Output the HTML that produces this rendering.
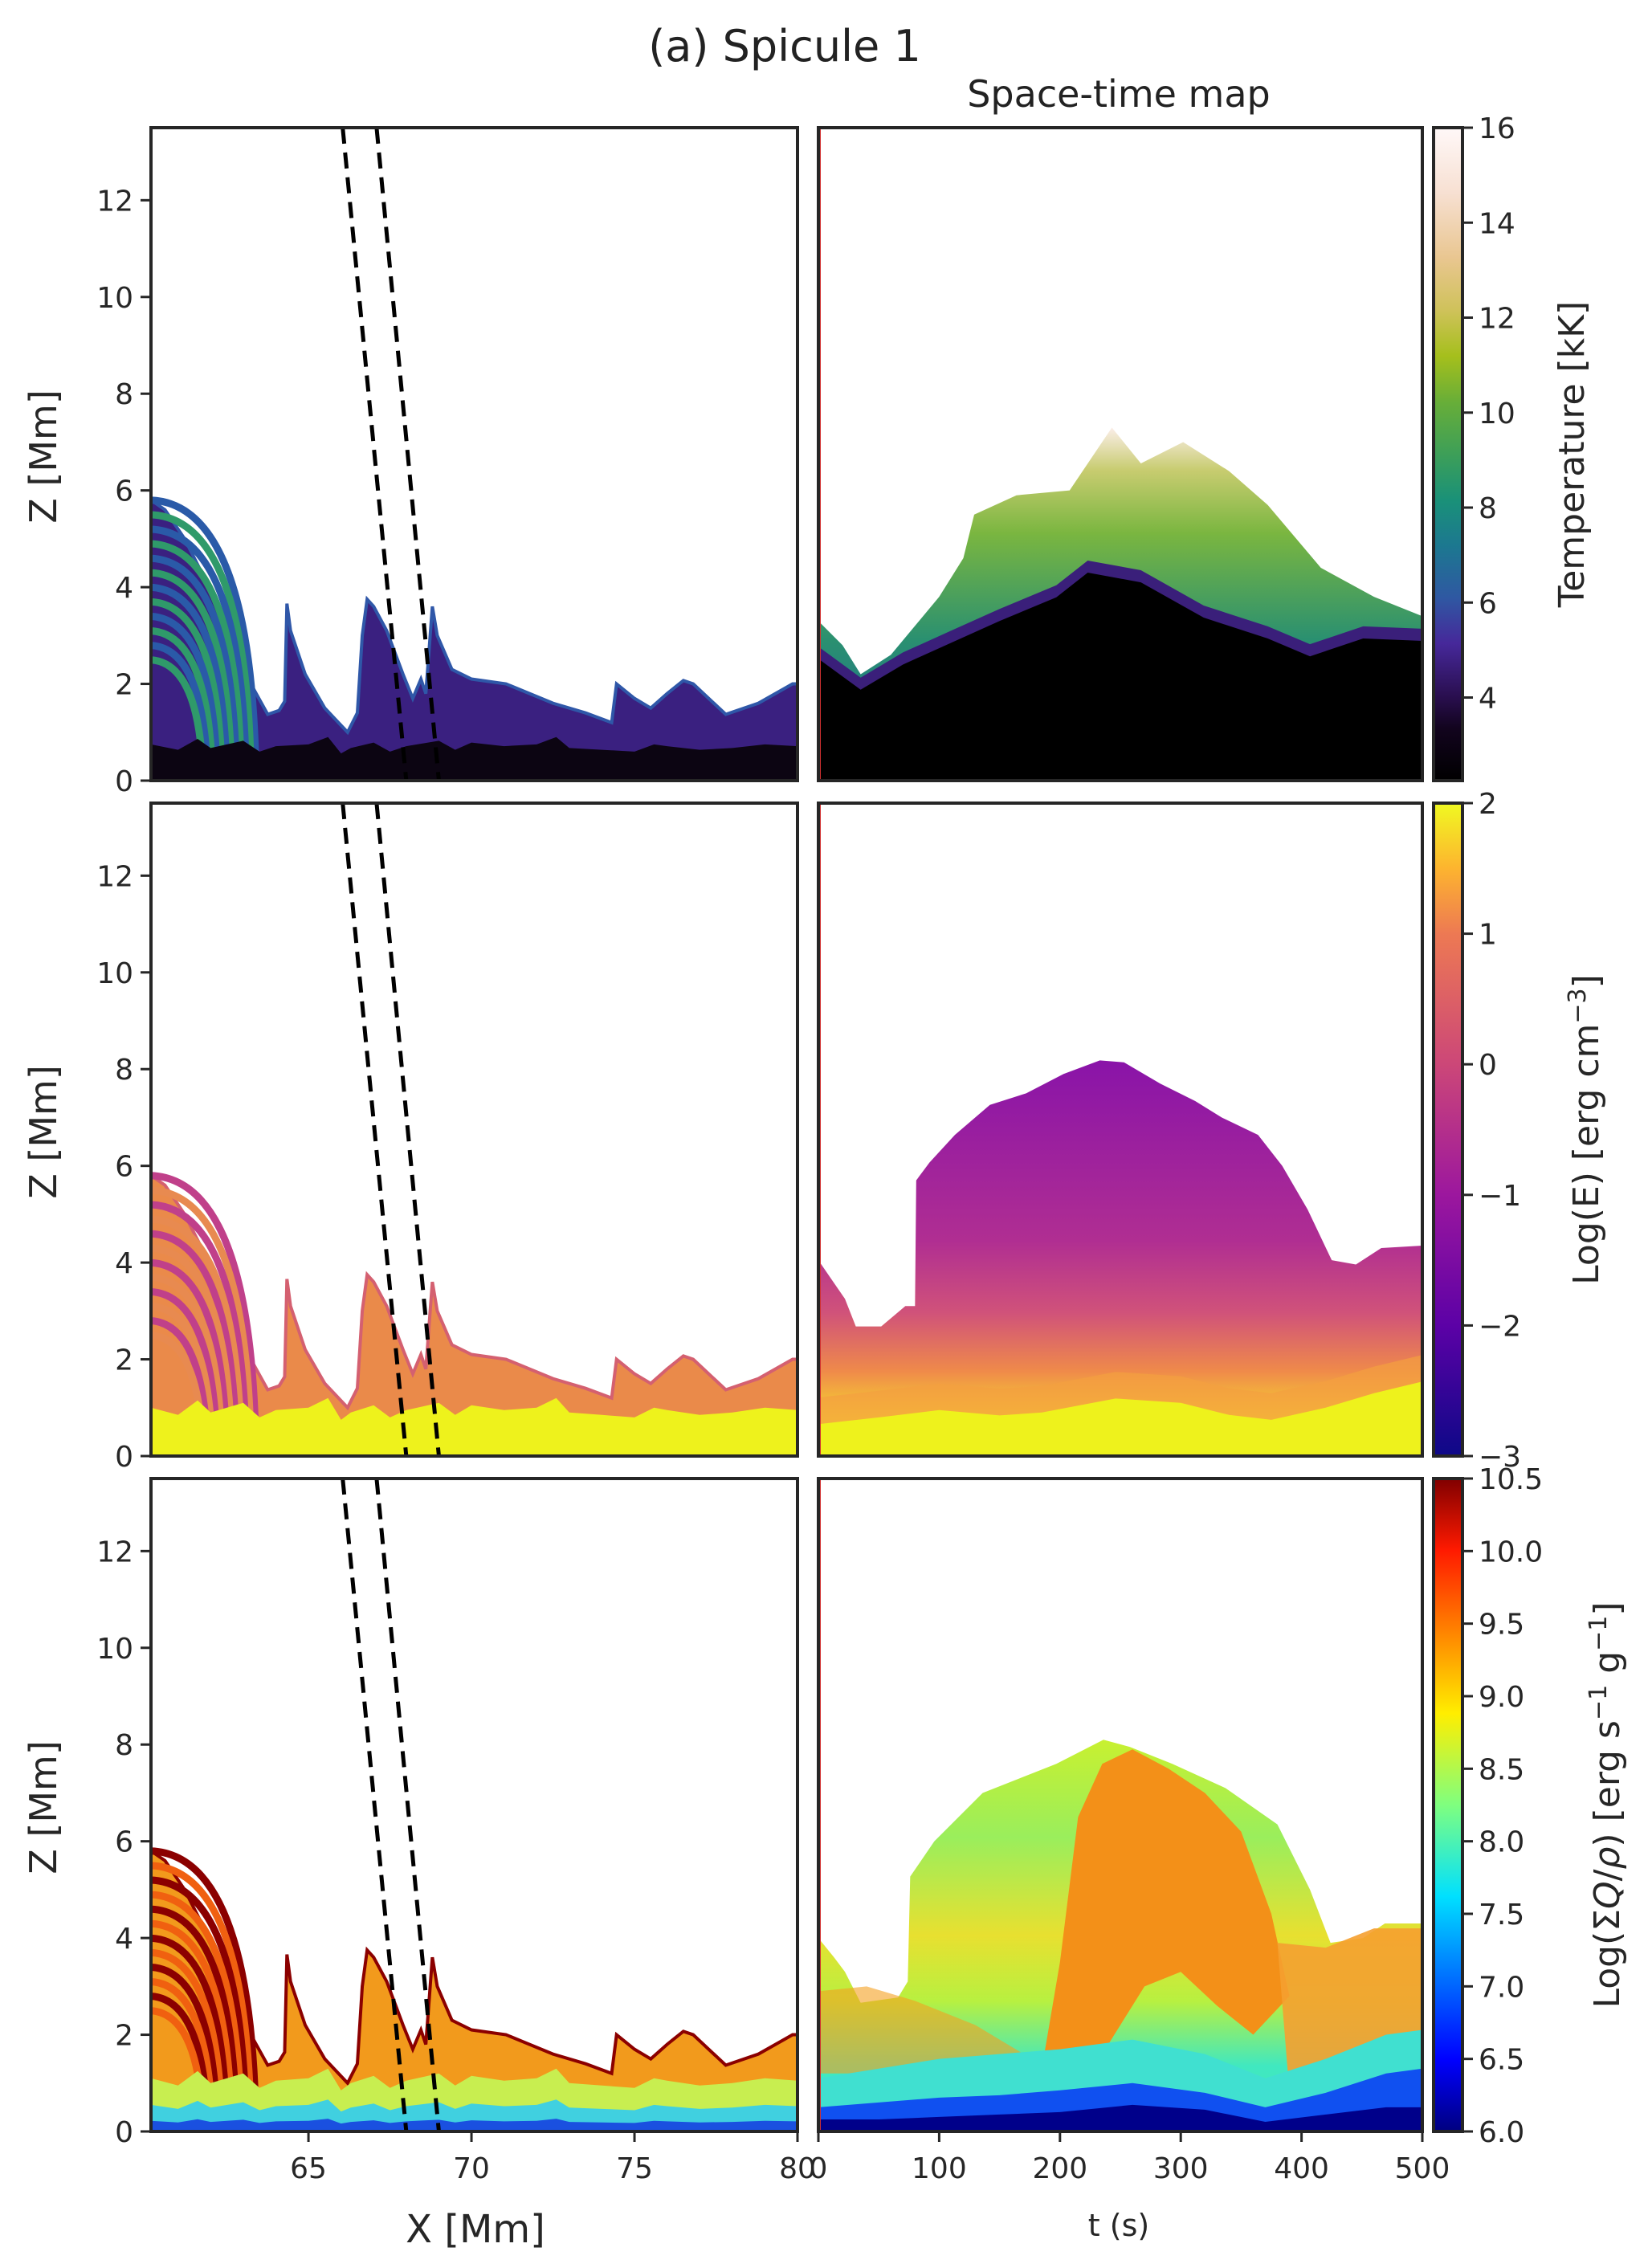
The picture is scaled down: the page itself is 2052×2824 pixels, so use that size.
<!DOCTYPE html>
<html><head><meta charset="utf-8">
<style>
html,body{margin:0;padding:0;background:#fff;}
svg{display:block;font-family:"DejaVu Sans","Liberation Sans",sans-serif;}
</style></head>
<body>
<svg id="fig" xmlns="http://www.w3.org/2000/svg" width="2052" height="2824" viewBox="0 0 2052 2824">
<defs>
  <linearGradient id="cbT" x1="0" y1="1" x2="0" y2="0">
    <stop offset="0" stop-color="#000000"/><stop offset="0.08" stop-color="#12041e"/>
    <stop offset="0.13" stop-color="#2a0f50"/><stop offset="0.21" stop-color="#46289a"/>
    <stop offset="0.28" stop-color="#2f58a2"/><stop offset="0.36" stop-color="#1c7890"/>
    <stop offset="0.43" stop-color="#1a9178"/><stop offset="0.5" stop-color="#3d9f58"/>
    <stop offset="0.58" stop-color="#68ae38"/><stop offset="0.65" stop-color="#a5bf1c"/>
    <stop offset="0.72" stop-color="#cfc25a"/><stop offset="0.8" stop-color="#e9c690"/>
    <stop offset="0.9" stop-color="#f7e0d2"/><stop offset="1" stop-color="#fff8f8"/>
  </linearGradient>
  <linearGradient id="cbM" x1="0" y1="1" x2="0" y2="0">
    <stop offset="0" stop-color="#0d0887"/><stop offset="0.2" stop-color="#5c01a6"/>
    <stop offset="0.4" stop-color="#9c179e"/><stop offset="0.6" stop-color="#cc4778"/>
    <stop offset="0.8" stop-color="#ed7953"/><stop offset="0.9" stop-color="#fdb42f"/>
    <stop offset="1" stop-color="#f0f921"/>
  </linearGradient>
  <linearGradient id="cbB" x1="0" y1="1" x2="0" y2="0">
    <stop offset="0" stop-color="#00007f"/><stop offset="0.11" stop-color="#0000ff"/>
    <stop offset="0.36" stop-color="#00e0ff"/><stop offset="0.5" stop-color="#7fff7f"/>
    <stop offset="0.64" stop-color="#ffee00"/><stop offset="0.89" stop-color="#ff1a00"/>
    <stop offset="1" stop-color="#800000"/>
  </linearGradient>
  <linearGradient id="envT" x1="0" y1="1" x2="0" y2="0">
    <stop offset="0" stop-color="#28306e"/><stop offset="0.1" stop-color="#1f6f8e"/>
    <stop offset="0.4" stop-color="#2a9070"/><stop offset="0.7" stop-color="#7ab640"/>
    <stop offset="0.88" stop-color="#c8cc70"/><stop offset="1" stop-color="#fbeee8"/>
  </linearGradient>
  <linearGradient id="envM" gradientUnits="userSpaceOnUse" x1="0" y1="1813" x2="0" y2="1000">
    <stop offset="0.06" stop-color="#f6d530"/><stop offset="0.13" stop-color="#ef8a4a"/>
    <stop offset="0.22" stop-color="#d0527a"/><stop offset="0.33" stop-color="#b02e92"/>
    <stop offset="0.6" stop-color="#8a14a8"/>
  </linearGradient>
  <linearGradient id="envB" gradientUnits="userSpaceOnUse" x1="0" y1="2654" x2="0" y2="1841">
    <stop offset="0.1" stop-color="#40e8c0"/><stop offset="0.2" stop-color="#b8f040"/>
    <stop offset="0.3" stop-color="#e8e030"/><stop offset="0.45" stop-color="#9aee5c"/>
    <stop offset="0.6" stop-color="#c8f030"/>
  </linearGradient>
  <clipPath id="c0"><rect x="188" y="159" width="805" height="813"/></clipPath>
  <clipPath id="c1"><rect x="188" y="1000" width="805" height="813"/></clipPath>
  <clipPath id="c2"><rect x="188" y="1841" width="805" height="813"/></clipPath>
  <clipPath id="r0"><rect x="1019" y="159" width="752" height="813"/></clipPath>
  <clipPath id="r1"><rect x="1019" y="1000" width="752" height="813"/></clipPath>
  <clipPath id="r2"><rect x="1019" y="1841" width="752" height="813"/></clipPath>
</defs>
<text x="977" y="76" font-size="54" text-anchor="middle" fill="#222">(a) Spicule 1</text>
<text x="1393" y="133" font-size="46" text-anchor="middle" fill="#222">Space-time map</text>
<g id="plots"></g>
</svg>
<script>
// ---------- data ----------
const profX = [60.17,60.6,61.2,61.8,62.4,62.84,63.1,63.75,64.1,64.27,64.34,64.45,64.9,65.5,66.2,66.5,66.65,66.8,67.0,67.4,67.9,68.2,68.45,68.6,68.8,68.95,69.4,70.0,71.06,72.5,73.5,74.3,74.45,75.0,75.5,76.0,76.5,76.8,77.8,78.8,79.85,80];
const profZ = [5.8,5.6,5.0,4.2,3.2,2.16,2.16,1.37,1.45,1.64,3.66,3.1,2.2,1.5,1.0,1.4,3.0,3.75,3.6,3.1,2.2,1.7,2.1,1.8,3.6,3.0,2.3,2.1,2.0,1.6,1.4,1.2,2.0,1.7,1.5,1.8,2.07,2.0,1.37,1.6,2.0,2.0];
const baseX = [60.17,61,61.6,62,63,63.5,64,65,65.6,66,66.3,67,67.5,68,69,69.5,70,71,72,72.6,73,74,75,75.6,76,77,78,79,80];
const baseZ = [1.0,0.85,1.15,0.9,1.1,0.8,0.95,1.0,1.2,0.75,0.9,1.05,0.8,0.95,1.1,0.85,1.05,0.95,1.0,1.2,0.9,0.85,0.8,1.0,0.95,0.85,0.9,1.0,0.95];
const loopTop = [5.8,5.5,5.2,4.9,4.6,4.3,4.0,3.7,3.4,3.1,2.8,2.5];
const slitTop = [66.05,67.09];
const slitBot = [68.0,69.0];
const tT = [0,35,70,109,150,197,223,267,319,372,407,451,500];
const coolTop = [2.52,1.88,2.4,2.84,3.3,3.79,4.3,4.1,3.37,2.94,2.57,2.94,2.89];
const tHot = [0,20,35,60,100,120,129,164,208,243,267,302,340,372,416,460,500];
const hotTop = [3.3,2.8,2.2,2.6,3.8,4.6,5.5,5.9,6.0,7.3,6.56,7.0,6.4,5.7,4.4,3.8,3.4];
const tE = [0,11,22,31,52,72,80,81,92,113,142,172,203,233,253,283,312,334,364,384,405,425,445,466,500];
const envE = [4.05,3.65,3.25,2.68,2.68,3.1,3.1,5.7,6.07,6.64,7.26,7.5,7.9,8.18,8.14,7.7,7.34,7.0,6.64,6.0,5.1,4.05,3.96,4.3,4.35];
const tBase = [0,50,100,150,185,246,300,340,375,420,460,500];
const baseE = [0.66,0.8,0.95,0.84,0.9,1.19,1.1,0.85,0.75,1.0,1.3,1.54];
const tQ = [0,13,22,35,66,74,76,96,136,197,236,258,293,337,380,407,424,451,469,500];
const envQ = [4.0,3.6,3.3,2.66,2.77,3.1,5.27,6.0,7.0,7.6,8.1,7.95,7.6,7.1,6.35,5.0,3.9,4.0,4.3,4.3];
const tW = [0,50,100,150,200,260,320,370,420,470,500];
const navyTop = [0.25,0.25,0.3,0.35,0.4,0.55,0.45,0.2,0.35,0.5,0.5];
const blueTop = [0.5,0.6,0.7,0.75,0.85,1.0,0.8,0.5,0.8,1.2,1.3];
const cyanTop = [1.1,1.3,1.5,1.6,1.7,1.9,1.6,1.1,1.5,2.0,2.1];
const tCore = [185,200,215,235,260,290,320,350,375,390,360,330,300,270,245,220,200];
const zCore = [1.3,3.5,6.5,7.6,7.9,7.5,7.0,6.2,4.5,2.8,2.0,2.6,3.3,3.0,2.0,1.0,0.9];
const tRight = [380,420,460,500,500,460,420,390];
const zRight = [3.9,3.8,4.2,4.2,1.8,1.6,1.2,0.8];
const cbTicksT = [4,6,8,10,12,14,16];
const cbTicksM = [-3,-2,-1,0,1,2];
const cbTicksB = ['6.0','6.5','7.0','7.5','8.0','8.5','9.0','9.5','10.0','10.5'];
const zTicks = [0,2,4,6,8,10,12];
const xTicks = [65,70,75,80];
const tTicks = [0,100,200,300,400,500];

// ---------- geometry ----------
const NS = 'http://www.w3.org/2000/svg';
const rowTop = [159,1000,1841];
const H = 813, ZMAX = 13.5, XMIN = 60.17, XMAX = 80;
const LX0 = 188, LW = 805, RX0 = 1019, RW = 752;
const xL = m => LX0 + (m - XMIN) / (XMAX - XMIN) * LW;
const xR = t => RX0 + t / 500 * RW;
const zy = (z, r) => rowTop[r] + H - z / ZMAX * H;
const root = document.getElementById('plots');
function mk(tag, attrs, parent) {
  const e = document.createElementNS(NS, tag);
  for (const k in attrs) e.setAttribute(k, attrs[k]);
  (parent || root).appendChild(e);
  return e;
}
function polyTop(xs, zs, fx, r, zbot) {
  let pts = xs.map((x, i) => fx(x) + ',' + zy(zs[i], r));
  pts.push(fx(xs[xs.length-1]) + ',' + zy(zbot, r));
  pts.push(fx(xs[0]) + ',' + zy(zbot, r));
  return pts.join(' ');
}
function polyClosed(xs, zs, fx, r) { return xs.map((x, i) => fx(x) + ',' + zy(zs[i], r)).join(' '); }

// ---------- left panels ----------
const leftStyle = [
  {fill:'#3a2080', base:'#0c0512', loopA:'#2a5aa8', loopB:'#2f9a6a', edge:'#2f57a8'},
  {fill:'#ea8a4a', base:'#eef21c', loopA:'#c0408a', loopB:'#e88a50', edge:'#d46070'},
  {fill:'#f29a1c', base:'#6fe0a0', loopA:'#8b0000', loopB:'#f06010', edge:'#8b0000'}
];
for (let r = 0; r < 3; r++) {
  const s = leftStyle[r];
  const g = mk('g', {'clip-path': 'url(#c' + r + ')'});
  
  
  const terr = mk('polygon', {points: polyTop(profX, profZ, xL, r, 0), fill: s.fill, stroke: s.edge, 'stroke-width': 4}, g);
  
  
  loopTop.forEach((h, i) => {
    const xe = xL(XMIN + h * 0.5 + 0.3);
    const p = mk('path', {d: 'M' + (LX0 - 4) + ',' + zy(h, r) + ' Q' + (xe - 10) + ',' + zy(h, r) + ' ' + xe + ',' + zy(0.6, r),
      fill: 'none', stroke: i % 2 ? s.loopB : s.loopA, 'stroke-width': 9}, g);
    
    
  });
  if (r === 2) {
    const b1 = mk('polygon', {points: polyTop(baseX, baseZ.map(v => v + 0.1), xL, r, 0), fill: '#c8ee50'}, g);
    
    
    const b2 = mk('polygon', {points: polyTop(baseX, baseZ.map(v => v * 0.55), xL, r, 0), fill: '#40d0e0'}, g);
    
    
    const b3 = mk('polygon', {points: polyTop(baseX, baseZ.map(v => v * 0.22), xL, r, 0), fill: '#1a50e0'}, g);
    
    
  } else {
    const b = mk('polygon', {points: polyTop(baseX, baseZ.map(v => r === 0 ? v * 0.75 : v), xL, r, 0), fill: s.base}, g);
    
    
  }
  for (let k = 0; k < 2; k++) {
    const ln = mk('line', {x1: xL(slitTop[k]), y1: zy(ZMAX, r), x2: xL(slitBot[k]), y2: zy(0, r), stroke: '#000', 'stroke-width': 5, 'stroke-dasharray': '20 11'}, g);
    
    
  }
  const fr = mk('rect', {x: LX0, y: rowTop[r], width: LW, height: H, fill: 'none', stroke: '#262626', 'stroke-width': 4});
  
  
  zTicks.forEach(z => {
    const y = zy(z, r);
    const tk = mk('line', {x1: LX0 - 13, y1: y, x2: LX0, y2: y, stroke: '#262626', 'stroke-width': 3});
    
    
    const tl = mk('text', {x: LX0 - 22, y: y + 13, 'font-size': 36, 'text-anchor': 'end', fill: '#262626'});
    tl.textContent = z;
    
    
  });
  const yl = mk('text', {x: 0, y: 0, 'font-size': 46, 'text-anchor': 'middle', fill: '#262626', transform: 'translate(70,' + (rowTop[r] + H / 2 + 3) + ') rotate(-90)'});
  yl.textContent = 'Z [Mm]';
  
  
}

// ---------- right panels ----------
{
  const g = mk('g', {'clip-path': 'url(#r0)'});
  
  
  const env = mk('polygon', {points: polyTop(tHot, hotTop, xR, 0, 0), fill: 'url(#envT)'}, g);
  
  
  const rim = mk('polygon', {points: polyTop(tT, coolTop.map(v => v + 0.25), xR, 0, 0), fill: '#3a1f7a'}, g);
  
  
  const cool = mk('polygon', {points: polyTop(tT, coolTop, xR, 0, 0), fill: '#000'}, g);
  
  
}
{
  const g = mk('g', {'clip-path': 'url(#r1)'});
  
  
  const env = mk('polygon', {points: polyTop(tE, envE, xR, 1, 0), fill: 'url(#envM)'}, g);
  
  
  const mid = mk('polygon', {points: polyTop(tBase, baseE.map(v => v + 0.55), xR, 1, 0), fill: '#f3a040', opacity: 0.7}, g);
  
  
  const b = mk('polygon', {points: polyTop(tBase, baseE, xR, 1, 0), fill: '#eef21c'}, g);
  
  
}
{
  const g = mk('g', {'clip-path': 'url(#r2)'});
  
  
  const env = mk('polygon', {points: polyTop(tQ, envQ, xR, 2, 0), fill: 'url(#envB)'}, g);
  
  
  const lb = mk('polygon', {points: polyTop([0,40,80,130,170], [2.9,3.0,2.7,2.2,1.6], xR, 2, 1.2), fill: '#f5a020', opacity: 0.6}, g);
  
  
  const core = mk('polygon', {points: polyClosed(tCore, zCore, xR, 2), fill: '#f39018'}, g);
  
  
  const rr = mk('polygon', {points: polyClosed(tRight, zRight, xR, 2), fill: '#f5a030', opacity: 0.9}, g);
  
  
  const cy = mk('polygon', {points: polyTop(tW, cyanTop, xR, 2, 0), fill: '#40e0d0'}, g);
  
  
  const bl = mk('polygon', {points: polyTop(tW, blueTop, xR, 2, 0), fill: '#1050f0'}, g);
  
  
  const nv = mk('polygon', {points: polyTop(tW, navyTop, xR, 2, 0), fill: '#00008a'}, g);
  
  
}
for (let r = 0; r < 3; r++) {
  const red = mk('line', {x1: RX0 + 2, y1: rowTop[r], x2: RX0 + 2, y2: rowTop[r] + H, stroke: '#d03030', 'stroke-width': 2});
  
  
  const fr = mk('rect', {x: RX0, y: rowTop[r], width: RW, height: H, fill: 'none', stroke: '#262626', 'stroke-width': 4});
  
  
}

// ---------- colorbars ----------
const CBX = 1785, CBW = 36;
function colorbar(r, grad, ticks, vmin, vmax, label, lx, name) {
  const top = rowTop[r];
  const rc = mk('rect', {x: CBX, y: top, width: CBW, height: H, fill: 'url(#' + grad + ')', stroke: '#262626', 'stroke-width': 4});
  
  
  ticks.forEach(tv => {
    const v = parseFloat(tv);
    const y = top + H - (v - vmin) / (vmax - vmin) * H;
    const tk = mk('line', {x1: CBX + CBW, y1: y, x2: CBX + CBW + 13, y2: y, stroke: '#262626', 'stroke-width': 3});
    
    
    const tl = mk('text', {x: CBX + CBW + 20, y: y + 13, 'font-size': 36, fill: '#262626'});
    tl.textContent = (typeof tv === 'number' && tv < 0) ? '\u2212' + Math.abs(tv) : tv;
    
    
  });
  const t = mk('text', {x: 0, y: 0, 'font-size': 44, 'text-anchor': 'middle', fill: '#262626', transform: 'translate(' + lx + ',' + (top + H / 2) + ') rotate(-90)'});
  t.innerHTML = label;
  
  
}
colorbar(0, 'cbT', cbTicksT, 2.25, 16, 'Temperature [kK]', 1972, 'temperature-colorbar');
colorbar(1, 'cbM', cbTicksM, -3, 2, 'Log(E) [erg cm<tspan dy="-16" font-size="30">\u22123</tspan><tspan dy="16">]</tspan>', 1990, 'energy-colorbar');
colorbar(2, 'cbB', cbTicksB, 6.0, 10.5, 'Log(\u03a3<tspan font-style="italic">Q</tspan>/<tspan font-style="italic">\u03c1</tspan>) [erg s<tspan dy="-16" font-size="30">\u22121</tspan><tspan dy="16"> g</tspan><tspan dy="-16" font-size="30">\u22121</tspan><tspan dy="16">]</tspan>', 2016, 'heating-colorbar');

// ---------- x axes ----------
const yb = rowTop[2] + H;
xTicks.forEach(m => {
  const x = xL(m);
  const tk = mk('line', {x1: x, y1: yb, x2: x, y2: yb + 13, stroke: '#262626', 'stroke-width': 3});
  
  
  const tl = mk('text', {x: x, y: yb + 58, 'font-size': 36, 'text-anchor': 'middle', fill: '#262626'});
  tl.textContent = m;
  
  
});
tTicks.forEach(t => {
  const x = xR(t);
  const tk = mk('line', {x1: x, y1: yb, x2: x, y2: yb + 13, stroke: '#262626', 'stroke-width': 3});
  
  
  const tl = mk('text', {x: x, y: yb + 58, 'font-size': 36, 'text-anchor': 'middle', fill: '#262626'});
  tl.textContent = t;
  
  
});
const xt = mk('text', {x: 592, y: 2792, 'font-size': 48, 'text-anchor': 'middle', fill: '#262626'});
xt.textContent = 'X [Mm]';


const tt = mk('text', {x: 1393, y: 2784, 'font-size': 38, 'text-anchor': 'middle', fill: '#262626'});
tt.textContent = 't (s)';


</script>
</body></html>
